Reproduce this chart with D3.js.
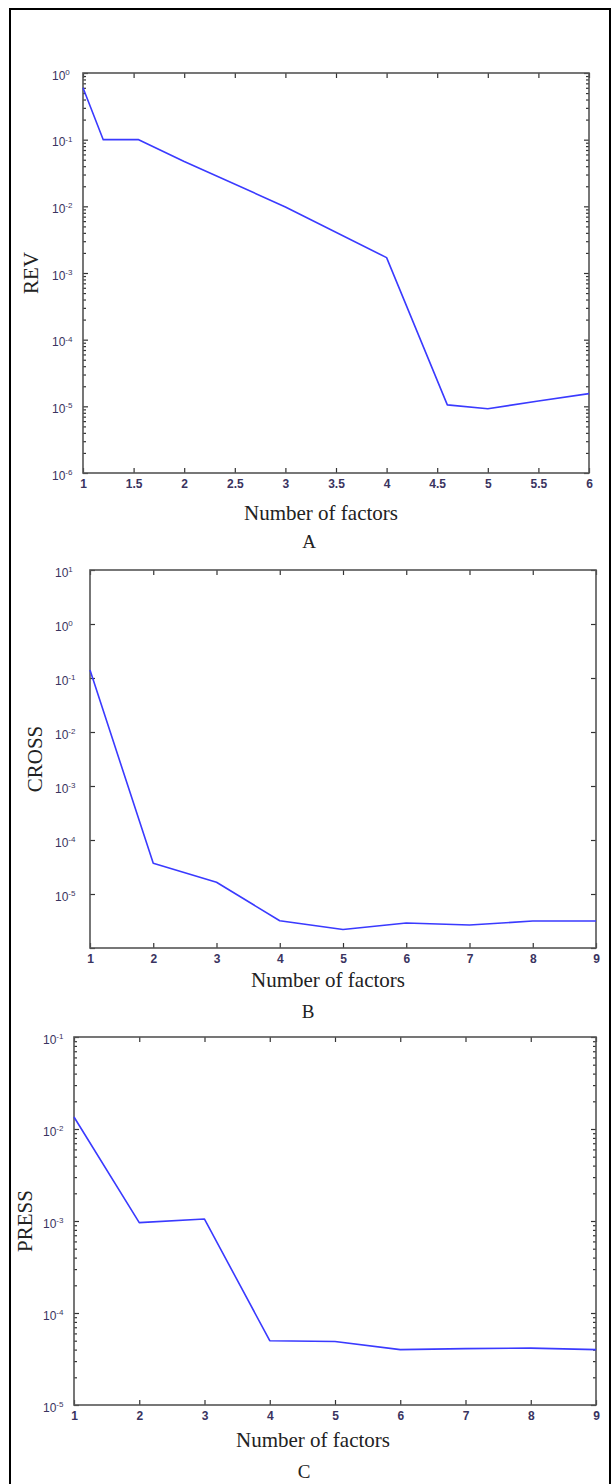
<!DOCTYPE html>
<html>
<head>
<meta charset="utf-8">
<script src="https://cdn.jsdelivr.net/npm/d3@7"></script>
<style>
  html, body { margin: 0; padding: 0; background: #fff; }
  svg { display: block; }
</style>
</head>
<body>
<script>
// ---------- data ----------
const factorsA = [1, 1.2, 1.55, 2, 3, 4, 4.6, 5, 5.5, 6];
const rev      = [0.6, 0.1, 0.1, 0.047, 0.0098, 0.0017, 1.05e-5, 9.2e-6, 1.2e-5, 1.55e-5];

const factorsB = [1, 2, 3, 4, 5, 6, 7, 8, 9];
const cross    = [0.14, 3.7e-5, 1.65e-5, 3.2e-6, 2.2e-6, 2.9e-6, 2.66e-6, 3.16e-6, 3.16e-6];

const factorsC = [1, 2, 3, 4, 5, 6, 7, 8, 9];
const press    = [0.0135, 9.6e-4, 1.05e-3, 5.0e-5, 4.9e-5, 4.0e-5, 4.1e-5, 4.15e-5, 4.0e-5];

const xTicksA = [1, 1.5, 2, 2.5, 3, 3.5, 4, 4.5, 5, 5.5, 6];
const xTicksBC = [1, 2, 3, 4, 5, 6, 7, 8, 9];
const yExpA = [0, -1, -2, -3, -4, -5, -6];
const yExpB = [1, 0, -1, -2, -3, -4, -5, -6];
const yLabelExpB = [1, 0, -1, -2, -3, -4, -5];
const yExpC = [-1, -2, -3, -4, -5];

const xLabel = "Number of factors";
const panelLetters = ["A", "B", "C"];
const yLabels = ["REV", "CROSS", "PRESS"];

// ---------- layout ----------
const W = 613, H = 1484;
const svg = d3.select("body").append("svg").attr("width", W).attr("height", H);

// outer frame
svg.append("rect").attr("x", 10).attr("y", 9).attr("width", 600).attr("height", H + 20)
  .attr("fill", "none").attr("stroke", "#000").attr("stroke-width", 2);

const panels = [
  { xs: factorsA, ys: rev, xDom: [1, 6], yDom: [1e-6, 1], box: {l: 83, t: 73, r: 589, b: 473},
    xTicks: xTicksA, yExp: yExpA, yLabelExp: yExpA, minor: true,
    labelStartX: 52, yLabelX: 31, xLabelX: 321, xLabelY: 520, letterX: 309, letterY: 548 },
  { xs: factorsB, ys: cross, xDom: [1, 9], yDom: [1e-6, 10], box: {l: 90, t: 570, r: 596, b: 948},
    xTicks: xTicksBC, yExp: yExpB, yLabelExp: yLabelExpB, minor: false,
    labelStartX: 55, yLabelX: 35, xLabelX: 328, xLabelY: 987, letterX: 308, letterY: 1018 },
  { xs: factorsC, ys: press, xDom: [1, 9], yDom: [1e-5, 1e-1], box: {l: 74, t: 1037, r: 596, b: 1405},
    xTicks: xTicksBC, yExp: yExpC, yLabelExp: yExpC, minor: true,
    labelStartX: 43, yLabelX: 25, xLabelX: 313, xLabelY: 1447, letterX: 304, letterY: 1478 }
];

const tickFont = "'Liberation Sans', Arial, sans-serif";
const serif = "'Liberation Serif', 'Times New Roman', serif";
const tickColor = "#3a3360";
const axisColor = "#555";

panels.forEach((p, i) => {
  const b = p.box;
  const x = d3.scaleLinear().domain(p.xDom).range([b.l, b.r]);
  const y = d3.scaleLog().domain(p.yDom).range([b.b, b.t]);

  const majors = p.yExp.map(e => Math.pow(10, e));
  const minors = [];
  if (p.minor) {
    for (let e = Math.round(Math.log10(p.yDom[0])); e < Math.round(Math.log10(p.yDom[1])); e++) {
      for (let m = 2; m <= 9; m++) minors.push(m * Math.pow(10, e));
    }
  }

  const g = svg.append("g");

  // bottom axis
  const gx = g.append("g").attr("transform", `translate(0,${b.b})`)
    .call(d3.axisBottom(x).tickValues(p.xTicks).tickSizeInner(-5).tickSizeOuter(0).tickPadding(6)
      .tickFormat(d => String(d)));
  // top axis
  g.append("g").attr("transform", `translate(0,${b.t})`)
    .call(d3.axisTop(x).tickValues(p.xTicks).tickSizeInner(-5).tickSizeOuter(0).tickFormat(""));
  // left axis (major)
  const gy = g.append("g").attr("transform", `translate(${b.l},0)`)
    .call(d3.axisLeft(y).tickValues(majors).tickSizeInner(-5).tickSizeOuter(0).tickPadding(b.l - p.labelStartX)
      .tickFormat(d => p.yLabelExp.includes(Math.round(Math.log10(d))) ? "10" : ""));
  // right axis (major)
  g.append("g").attr("transform", `translate(${b.r},0)`)
    .call(d3.axisRight(y).tickValues(majors).tickSizeInner(-5).tickSizeOuter(0).tickFormat(""));
  // minor ticks
  if (p.minor) {
    g.append("g").attr("transform", `translate(${b.l},0)`)
      .call(d3.axisLeft(y).tickValues(minors).tickSizeInner(-3).tickSizeOuter(0).tickFormat(""));
    g.append("g").attr("transform", `translate(${b.r},0)`)
      .call(d3.axisRight(y).tickValues(minors).tickSizeInner(-3).tickSizeOuter(0).tickFormat(""));
  }

  g.selectAll(".domain").remove();
  g.selectAll(".tick line").attr("stroke", "#333").attr("stroke-width", 1.2);

  gx.selectAll("text").attr("font-family", tickFont).attr("font-size", 12)
    .attr("fill", tickColor).attr("font-weight", "bold");

  gy.selectAll("text").each(function(d) {
    const t = d3.select(this);
    if (t.text() === "") return;
    t.attr("text-anchor", "start").attr("x", -(b.l - p.labelStartX)).attr("dy", "0.5em")
      .attr("font-family", tickFont).attr("font-size", 12).attr("fill", tickColor);
    t.append("tspan").attr("dy", "-0.55em").attr("font-size", 8)
      .text(String(Math.round(Math.log10(d))));
  });

  // box
  g.append("rect").attr("x", b.l).attr("y", b.t).attr("width", b.r - b.l).attr("height", b.b - b.t)
    .attr("fill", "none").attr("stroke", axisColor).attr("stroke-width", 1.6);

  // line
  const line = d3.line().x(d => x(d[0])).y(d => y(d[1]));
  g.append("path").datum(p.xs.map((v, k) => [v, p.ys[k]]))
    .attr("d", line).attr("fill", "none").attr("stroke", "#3a3aff").attr("stroke-width", 1.6)
    .attr("stroke-linejoin", "round");

  // labels
  g.append("text").attr("x", p.xLabelX).attr("y", p.xLabelY).attr("text-anchor", "middle")
    .attr("font-family", serif).attr("font-size", 21).attr("fill", "#222").text(xLabel);
  g.append("text").attr("x", p.letterX).attr("y", p.letterY).attr("text-anchor", "middle")
    .attr("font-family", serif).attr("font-size", 19).attr("fill", "#222").text(panelLetters[i]);
  g.append("text").attr("transform", `translate(${p.yLabelX + 7},${(b.t + b.b) / 2}) rotate(-90)`)
    .attr("text-anchor", "middle").attr("font-family", serif).attr("font-size", 21).attr("fill", "#222")
    .text(yLabels[i]);
});
</script>
</body>
</html>
